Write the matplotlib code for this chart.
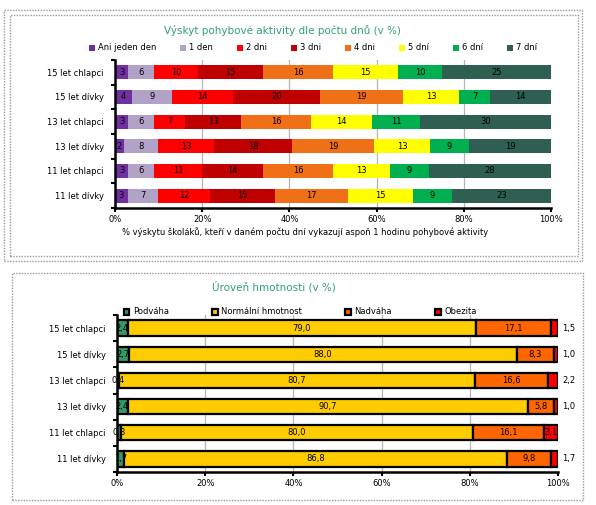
import matplotlib
matplotlib.use("Agg")
import matplotlib.pyplot as plt
from matplotlib.patches import Rectangle
import numpy as np

# data - top chart (pohybova aktivita)
groups = ["15 let chlapci", "15 let dívky", "13 let chlapci",
          "13 let dívky", "11 let chlapci", "11 let dívky"]
day_names = ["Ani jeden den", "1 den", "2 dni", "3 dni", "4 dni", "5 dní", "6 dní", "7 dní"]
day_colors = ["#7030A0", "#B3A2C7", "#FF0000", "#C00000", "#F07018", "#FFFF00", "#00B050", "#2E5F52"]
ani_jeden = [3, 4, 3, 2, 3, 3]
den_1 = [6, 9, 6, 8, 6, 7]
dni_2 = [10, 14, 7, 13, 11, 12]
dni_3 = [15, 20, 13, 18, 14, 15]
dni_4 = [16, 19, 16, 19, 16, 17]
dni_5 = [15, 13, 14, 13, 13, 15]
dni_6 = [10, 7, 11, 9, 9, 9]
dni_7 = [25, 14, 30, 19, 28, 23]

# data - bottom chart (hmotnost)
weight_names = ["Podváha", "Normální hmotnost", "Nadváha", "Obezita"]
weight_colors = ["#339966", "#FFCC00", "#FF6600", "#FF0000"]
podvaha = [2.4, 2.7, 0.4, 2.4, 0.8, 1.7]
normalni = [79.0, 88.0, 80.7, 90.7, 80.0, 86.8]
nadvaha = [17.1, 8.3, 16.6, 5.8, 16.1, 9.8]
obezita = [1.5, 1.0, 2.2, 1.0, 3.1, 1.7]

W, H = 596, 505
fig = plt.figure(figsize=(W / 100, H / 100), dpi=100)
fig.patch.set_facecolor("white")
plt.rcParams["font.family"] = ["DejaVu Sans"]


def px_rect(x0, y0, x1, y1):
    return [x0 / W, 1 - y1 / H, (x1 - x0) / W, (y1 - y0) / H]


def frame(x0, y0, x1, y1):
    l, b, w, h = px_rect(x0, y0, x1, y1)
    fig.patches.append(Rectangle((l, b), w, h, transform=fig.transFigure, fill=False,
                                 edgecolor="#9A9A9A", linestyle=(0, (1, 1)), linewidth=1.0))


frame(4, 10, 582, 261)
frame(10, 15, 578, 256)
frame(12, 273, 583, 500)


def style_axes(ax):
    ax.set_xlim(0, 100)
    ax.set_ylim(5.5, -0.5)
    ax.set_xticks([0, 20, 40, 60, 80, 100])
    ax.set_xticklabels(["0%", "20%", "40%", "60%", "80%", "100%"], fontsize=6)
    ax.set_yticks(range(6))
    ax.set_yticklabels(groups, fontsize=6)
    ax.set_yticks(np.arange(-0.5, 6, 1), minor=True)
    ax.tick_params(axis="y", which="major", length=0, pad=8)
    ax.tick_params(axis="y", which="minor", length=3, width=1.5, direction="out")
    ax.tick_params(axis="x", length=3, width=1.5, direction="out", pad=2)
    for s in ["top", "right"]:
        ax.spines[s].set_visible(False)
    for s in ["left", "bottom"]:
        ax.spines[s].set_linewidth(1.8)
    for g in [20, 40, 60, 80]:
        ax.axvline(g, color="#B5B5B5", lw=0.9, zorder=0)
    ax.set_facecolor("none")


# top chart
ax1 = fig.add_axes(px_rect(115, 60, 551, 208))
top_data = np.array([ani_jeden, den_1, dni_2, dni_3, dni_4, dni_5, dni_6, dni_7], dtype=float)
top_share = top_data / top_data.sum(axis=0) * 100
left = np.zeros(6)
for i in range(8):
    ax1.barh(range(6), top_share[i], left=left, height=0.57, color=day_colors[i],
             label=day_names[i], zorder=2)
    for j in range(6):
        ax1.text(left[j] + top_share[i][j] / 2, j, str(int(top_data[i][j])),
                 ha="center", va="center", fontsize=6, zorder=3)
    left += top_share[i]
style_axes(ax1)

fig.text(282 / W, 1 - 30 / H, "Výskyt pohybové aktivity dle počtu dnů (v %)",
         ha="center", va="center", fontsize=7.5, color="#33A070")
fig.text(305 / W, 1 - 232 / H,
         "% výskytu školáků, kteří v daném počtu dní vykazují aspoň 1 hodinu pohybové aktivity",
         ha="center", va="center", fontsize=6)
h1, l1 = ax1.get_legend_handles_labels()
fig.legend(h1, l1, loc="center", bbox_to_anchor=(313 / W, 1 - 48 / H), ncol=8,
           fontsize=6, frameon=False, handlelength=0.7, handleheight=0.7,
           handletextpad=0.4, columnspacing=2.85)

# bottom chart
ax2 = fig.add_axes(px_rect(117, 315, 558, 472))
bot_data = np.array([podvaha, normalni, nadvaha, obezita])
bot_share = bot_data / bot_data.sum(axis=0) * 100
left = np.zeros(6)
for i in range(4):
    ax2.barh(range(6), bot_share[i], left=left, height=0.58, color=weight_colors[i],
             edgecolor="black", linewidth=1.6, label=weight_names[i], zorder=2)
    for j in range(6):
        val = bot_data[i][j]
        txt = f"{val:.1f}".replace(".", ",")
        if i == 3 and val < 3:
            ax2.text(101, j, txt, ha="left", va="center", fontsize=6, zorder=3, clip_on=False)
        else:
            ax2.text(left[j] + bot_share[i][j] / 2, j, txt, ha="center", va="center",
                     fontsize=6, zorder=3)
    left += bot_share[i]
style_axes(ax2)

fig.text(274 / W, 1 - 287 / H, "Úroveň hmotnosti (v %)", ha="center", va="center",
         fontsize=7.5, color="#33A070")
h2, l2 = ax2.get_legend_handles_labels()
fig.legend(h2, l2, loc="center left", bbox_to_anchor=(116 / W, 1 - 312 / H), ncol=4,
           fontsize=6, frameon=False, handlelength=0.7, handleheight=0.7,
           handletextpad=0.4, columnspacing=5.2)

fig.savefig("out.png", dpi=100)
